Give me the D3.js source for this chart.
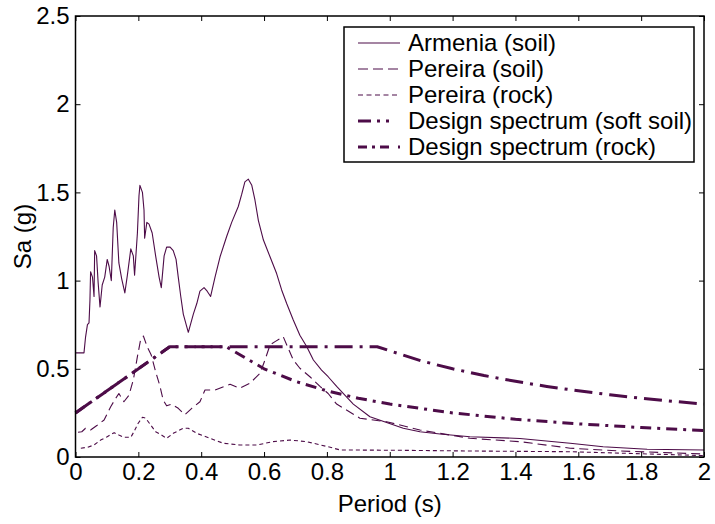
<!DOCTYPE html>
<html>
<head>
<meta charset="utf-8">
<script src="https://cdn.jsdelivr.net/npm/d3@7"></script>
<style>
  body { margin: 0; background: #fff; }
  text { font-family: Arial, "Liberation Sans", sans-serif; fill: #000; }
</style>
</head>
<body>
<div id="graph"></div>
<script>
// periods (s) and spectral accelerations (g)
var armeniaT = [0.0, 0.027, 0.032, 0.038, 0.043, 0.046, 0.048, 0.054, 0.059, 0.061, 0.067, 0.072, 0.078, 0.085, 0.093, 0.101, 0.107, 0.114, 0.120, 0.125, 0.131, 0.138, 0.147, 0.157, 0.165, 0.176, 0.184, 0.188, 0.197, 0.202, 0.205, 0.213, 0.218, 0.220, 0.227, 0.234, 0.244, 0.255, 0.266, 0.273, 0.282, 0.290, 0.301, 0.311, 0.320, 0.327, 0.335, 0.343, 0.359, 0.375, 0.386, 0.396, 0.409, 0.419, 0.430, 0.444, 0.460, 0.481, 0.497, 0.518, 0.529, 0.539, 0.550, 0.561, 0.571, 0.582, 0.598, 0.619, 0.640, 0.656, 0.672, 0.693, 0.714, 0.736, 0.757, 0.783, 0.804, 0.831, 0.884, 0.937, 0.990, 1.043, 1.096, 1.160, 1.255, 1.414, 1.574, 1.679, 1.819, 2.0];
var armeniaSa = [0.59, 0.59, 0.68, 0.75, 0.76, 0.89, 1.05, 1.02, 0.91, 1.17, 1.14, 0.99, 0.85, 0.975, 1.02, 1.12, 1.08, 1.0, 1.30, 1.40, 1.33, 1.10, 1.01, 0.93, 1.03, 1.18, 1.14, 1.03, 1.27, 1.48, 1.54, 1.50, 1.40, 1.24, 1.33, 1.32, 1.27, 1.14, 1.02, 0.96, 1.14, 1.19, 1.19, 1.17, 1.12, 1.02, 0.91, 0.81, 0.707, 0.81, 0.87, 0.94, 0.96, 0.94, 0.91, 1.02, 1.135, 1.25, 1.33, 1.42, 1.49, 1.56, 1.575, 1.54, 1.457, 1.34, 1.23, 1.135, 1.04, 0.947, 0.87, 0.777, 0.69, 0.625, 0.55, 0.493, 0.455, 0.40, 0.30, 0.228, 0.195, 0.163, 0.143, 0.13, 0.115, 0.105, 0.078, 0.058, 0.044, 0.04];

var pereiraSoilT = [0.008, 0.020, 0.032, 0.048, 0.069, 0.091, 0.112, 0.128, 0.138, 0.154, 0.170, 0.184, 0.197, 0.207, 0.216, 0.228, 0.241, 0.255, 0.269, 0.279, 0.290, 0.306, 0.327, 0.348, 0.370, 0.396, 0.412, 0.444, 0.492, 0.523, 0.555, 0.587, 0.603, 0.619, 0.635, 0.661, 0.677, 0.693, 0.714, 0.746, 0.778, 0.804, 0.831, 0.905, 0.990, 1.096, 1.255, 1.414, 1.574, 1.733, 2.0];
var pereiraSoilSa = [0.14, 0.143, 0.163, 0.153, 0.18, 0.21, 0.285, 0.333, 0.36, 0.313, 0.35, 0.437, 0.569, 0.663, 0.686, 0.625, 0.578, 0.484, 0.40, 0.323, 0.29, 0.30, 0.276, 0.24, 0.276, 0.313, 0.38, 0.38, 0.412, 0.39, 0.418, 0.474, 0.55, 0.635, 0.654, 0.682, 0.616, 0.55, 0.503, 0.455, 0.40, 0.36, 0.30, 0.22, 0.20, 0.153, 0.106, 0.087, 0.05, 0.034, 0.017];

var pereiraRockT = [0.017, 0.038, 0.059, 0.080, 0.101, 0.123, 0.138, 0.154, 0.176, 0.186, 0.199, 0.213, 0.223, 0.237, 0.255, 0.273, 0.290, 0.311, 0.343, 0.359, 0.386, 0.428, 0.470, 0.523, 0.577, 0.629, 0.683, 0.736, 0.804, 0.842, 1.03, 1.255, 1.574, 2.0];
var pereiraRockSa = [0.05, 0.055, 0.068, 0.096, 0.115, 0.138, 0.125, 0.112, 0.112, 0.143, 0.19, 0.225, 0.22, 0.187, 0.143, 0.125, 0.106, 0.134, 0.163, 0.163, 0.134, 0.106, 0.078, 0.068, 0.068, 0.087, 0.096, 0.087, 0.058, 0.04, 0.038, 0.034, 0.03, 0.008];

var designSoftT = [0, 0.3, 0.96, 1.1, 1.2, 1.3, 1.4, 1.5, 1.6, 1.7, 1.8, 1.9, 2.0];
var designSoftSa = [0.25, 0.625, 0.625, 0.545, 0.50, 0.462, 0.429, 0.40, 0.375, 0.353, 0.333, 0.316, 0.30];

var designRockT = [0, 0.3, 0.48, 0.6, 0.7, 0.8, 0.9, 1.0, 1.2, 1.4, 1.6, 1.8, 2.0];
var designRockSa = [0.25, 0.625, 0.625, 0.50, 0.429, 0.375, 0.333, 0.30, 0.25, 0.214, 0.188, 0.167, 0.15];

var xTicks = [0, 0.2, 0.4, 0.6, 0.8, 1, 1.2, 1.4, 1.6, 1.8, 2];
var yTicks = [0, 0.5, 1, 1.5, 2, 2.5];

var legendLabels = ["Armenia (soil)", "Pereira (soil)", "Pereira (rock)", "Design spectrum (soft soil)", "Design spectrum (rock)"];

var lineColor = "#4d0c48";

// set the dimensions and margins of the graph
var margin = {top: 16, right: 11, bottom: 67, left: 75.5};
var width = 715 - margin.left - margin.right;
var height = 524 - margin.top - margin.bottom;

var graphX = d3.scaleLinear().domain([0, 2]).range([0, width]);
var graphY = d3.scaleLinear().domain([0, 2.5]).range([height, 0]);

var svg = d3.select("#graph")
  .append("svg")
  .attr("width", 715)
  .attr("height", 524)
  .append("g")
  .attr("transform", "translate(" + margin.left + "," + margin.top + ")");

// series definitions (style per series)
var series = [
  {t: armeniaT, sa: armeniaSa, width: 1.1, dash: null},
  {t: pereiraSoilT, sa: pereiraSoilSa, width: 1.1, dash: "9,5"},
  {t: pereiraRockT, sa: pereiraRockSa, width: 1.1, dash: "4,3"},
  {t: designSoftT, sa: designSoftSa, width: 3, dash: "18,7,3,7"},
  {t: designRockT, sa: designRockSa, width: 3, dash: "11,6,3,6"}
];

var line = d3.line()
  .x(function(d) { return graphX(d[0]); })
  .y(function(d) { return graphY(d[1]); });

var plot = svg.append("g");

series.forEach(function(s) {
  var pts = s.t.map(function(t, i) { return [t, s.sa[i]]; });
  plot.append("path")
    .datum(pts)
    .attr("fill", "none")
    .attr("stroke", lineColor)
    .attr("stroke-width", s.width)
    .attr("stroke-linejoin", "round")
    .style("stroke-dasharray", s.dash)
    .attr("d", line);
});

// axes with inward ticks
var fmt = d3.format("~g");

var xAxis = svg.append("g")
  .attr("transform", "translate(0," + height + ")")
  .call(d3.axisBottom(graphX).tickValues(xTicks).tickFormat(fmt).tickSizeInner(-5).tickSizeOuter(0).tickPadding(6));

var yAxis = svg.append("g")
  .call(d3.axisLeft(graphY).tickValues(yTicks).tickFormat(fmt).tickSizeInner(-5).tickSizeOuter(0).tickPadding(6));

svg.append("g")
  .call(d3.axisTop(graphX).tickValues(xTicks).tickFormat("").tickSizeInner(-5).tickSizeOuter(0));

svg.append("g")
  .attr("transform", "translate(" + width + ",0)")
  .call(d3.axisRight(graphY).tickValues(yTicks).tickFormat("").tickSizeInner(-5).tickSizeOuter(0));

svg.selectAll(".domain").remove();
svg.selectAll(".tick line").attr("stroke", "#000").attr("stroke-width", 1);
svg.selectAll(".tick text")
  .style("font-size", "24px")
  .style("font-family", "Arial, 'Liberation Sans', sans-serif")
  .attr("fill", "#000");

// frame
svg.append("rect")
  .attr("width", width)
  .attr("height", height)
  .attr("fill", "none")
  .attr("stroke", "#000")
  .attr("stroke-width", 1.5);

// axis labels
svg.append("text")
  .attr("x", width / 2)
  .attr("y", height + 55)
  .attr("text-anchor", "middle")
  .style("font-size", "24px")
  .text("Period (s)");

svg.append("text")
  .attr("transform", "translate(-45," + (height / 2) + ")rotate(-90)")
  .attr("text-anchor", "middle")
  .style("font-size", "24px")
  .text("Sa (g)");

// legend
var legend = svg.append("g")
  .attr("transform", "translate(" + (344 - margin.left) + "," + (27 - margin.top) + ")");

legend.append("rect")
  .attr("width", 350)
  .attr("height", 135)
  .attr("fill", "#fff")
  .attr("stroke", "#000")
  .attr("stroke-width", 1.5);

var legendDash = [null, "10,5", "5,3.5", "13,6,3,6,3,20", "9,5,3,5,9"];

legendLabels.forEach(function(label, i) {
  var y = 16 + i * 26;
  legend.append("line")
    .attr("x1", 14)
    .attr("x2", 56)
    .attr("y1", y)
    .attr("y2", y)
    .attr("stroke", lineColor)
    .attr("stroke-width", series[i].width)
    .style("stroke-dasharray", legendDash[i]);
  legend.append("text")
    .attr("x", 64)
    .attr("y", y)
    .attr("dy", "0.35em")
    .style("font-size", "24px")
    .text(label);
});
</script>
</body>
</html>
